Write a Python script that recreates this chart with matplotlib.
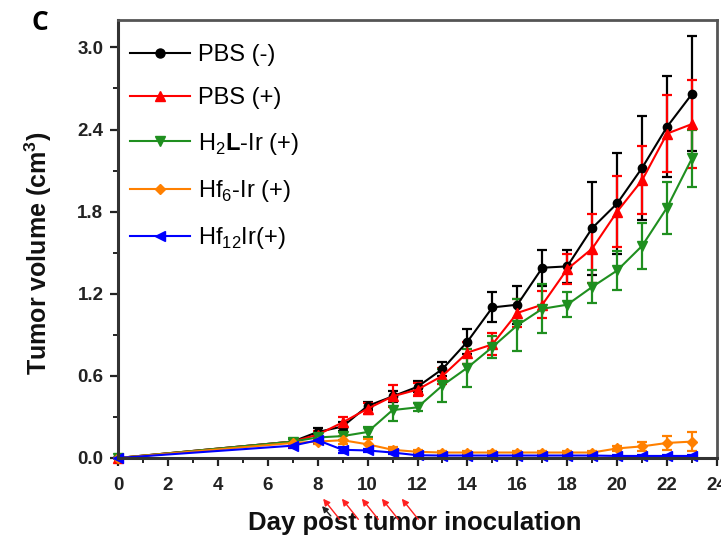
import matplotlib
matplotlib.use("Agg")
import matplotlib.pyplot as plt
from matplotlib.ticker import MultipleLocator
from matplotlib.lines import Line2D

plt.rcParams['font.family'] = ['Liberation Sans', 'DejaVu Sans']
plt.rcParams['mathtext.fontset'] = 'custom'
plt.rcParams['mathtext.rm'] = 'Liberation Sans'
plt.rcParams['mathtext.bf'] = 'Liberation Sans:bold'

days = [0, 7, 8, 9, 10, 11, 12, 13, 14, 15, 16, 17, 18, 19, 20, 21, 22, 23]

pbs_neg = [0.0, 0.12, 0.19, 0.23, 0.38, 0.45, 0.52, 0.65, 0.85, 1.10, 1.12, 1.39, 1.40, 1.68, 1.86, 2.12, 2.42, 2.66]
pbs_neg_err = [0.0, 0.02, 0.03, 0.03, 0.03, 0.04, 0.04, 0.05, 0.09, 0.11, 0.14, 0.13, 0.12, 0.34, 0.37, 0.38, 0.37, 0.42]

pbs_pos = [0.0, 0.12, 0.17, 0.26, 0.36, 0.45, 0.50, 0.60, 0.77, 0.83, 1.06, 1.12, 1.38, 1.53, 1.80, 2.03, 2.37, 2.44]
pbs_pos_err = [0.0, 0.02, 0.03, 0.04, 0.04, 0.08, 0.05, 0.06, 0.08, 0.08, 0.10, 0.10, 0.11, 0.25, 0.26, 0.25, 0.28, 0.32]

h2l = [0.0, 0.12, 0.15, 0.16, 0.19, 0.35, 0.37, 0.53, 0.66, 0.81, 0.97, 1.09, 1.12, 1.25, 1.37, 1.55, 1.83, 2.19]
h2l_err = [0.0, 0.02, 0.02, 0.03, 0.04, 0.08, 0.03, 0.12, 0.14, 0.08, 0.19, 0.18, 0.09, 0.12, 0.14, 0.17, 0.19, 0.21]

hf6 = [0.0, 0.11, 0.12, 0.13, 0.10, 0.06, 0.045, 0.04, 0.04, 0.04, 0.04, 0.04, 0.04, 0.04, 0.07, 0.085, 0.11, 0.12]
hf6_err = [0.0, 0.01, 0.02, 0.03, 0.04, 0.02, 0.01, 0.01, 0.01, 0.01, 0.01, 0.01, 0.01, 0.01, 0.02, 0.035, 0.05, 0.07]

hf12 = [0.0, 0.09, 0.13, 0.06, 0.055, 0.04, 0.02, 0.018, 0.018, 0.018, 0.018, 0.018, 0.018, 0.018, 0.015, 0.015, 0.015, 0.015]
hf12_err = [0.0, 0.02, 0.02, 0.02, 0.01, 0.01, 0.01, 0.01, 0.01, 0.01, 0.01, 0.01, 0.01, 0.01, 0.01, 0.01, 0.01, 0.01]

labels = ["PBS (-)", "PBS (+)", r"H$_2$$\mathbf{L}$-Ir (+)", r"Hf$_6$-Ir (+)", r"Hf$_{12}$Ir(+)"]
colors = ["#000000", "#ff0000", "#1f8f1f", "#ff8000", "#0000ff"]
markers = ["o", "^", "v", "D", "<"]
msizes = [6, 6.5, 6.5, 5, 6.5]

# injection days (arrows under the x axis)
arrow_black = [8.1]
arrows_red = [8.15, 8.9, 9.7, 10.5, 11.3]

fig = plt.figure(figsize=(7.21, 5.42), dpi=100)
ax = fig.add_axes([118/721, 1-458/542, 599/721, 438/542])

series = [(pbs_neg, pbs_neg_err), (pbs_pos, pbs_pos_err), (h2l, h2l_err), (hf6, hf6_err), (hf12, hf12_err)]
handles = []
for (y, e), lab, c, m, ms in zip(series, labels, colors, markers, msizes):
    ax.errorbar(days, y, yerr=e, color=c, marker=m, ms=ms, lw=1.5, elinewidth=1.6,
                capsize=3.5, capthick=1.6, clip_on=False)
    handles.append(Line2D([], [], color=c, marker=m, ms=ms + 0.5, lw=1.5, label=lab))

ax.set_xlim(0, 24)
ax.set_ylim(0, 3.2)
ax.xaxis.set_major_locator(MultipleLocator(2))
ax.xaxis.set_minor_locator(MultipleLocator(1))
ax.yaxis.set_major_locator(MultipleLocator(0.6))
ax.yaxis.set_minor_locator(MultipleLocator(0.3))
ax.yaxis.set_major_formatter(plt.FuncFormatter(lambda v, p: f"{v:.1f}"))
ax.tick_params(which='major', direction='out', length=5.5, width=1.6, labelsize=13.5, colors='#222222')
ax.tick_params(which='minor', direction='out', length=3.5, width=1.4, colors='#222222')
ax.tick_params(axis='x', which='major', pad=8)
ax.tick_params(axis='y', which='major', pad=5)
for lbl in ax.get_xticklabels() + ax.get_yticklabels():
    lbl.set_fontweight('bold')
for s in ['left', 'bottom']:
    ax.spines[s].set_linewidth(2.2)
    ax.spines[s].set_color('#333333')
for s in ['top', 'right']:
    ax.spines[s].set_linewidth(2.0)
    ax.spines[s].set_color('#555555')

ax.text((38 - 118) / 599, 0.468, "Tumor volume (cm$^\\mathbf{3}$)", rotation=90, transform=ax.transAxes,
        ha='center', va='center', fontsize=18, fontweight='bold', color='#111111')
ax.text(0.495, (458 - 523) / 438, "Day post tumor inoculation", transform=ax.transAxes,
        ha='center', va='center', fontsize=18.5, fontweight='bold', color='#111111')

leg = ax.legend(handles=handles, loc='upper left', frameon=False, fontsize=17, handlelength=2.55,
                labelspacing=0.9, borderaxespad=0.1, borderpad=0.4, handletextpad=0.35,
                bbox_to_anchor=(0.0, 0.972))

for xd in arrow_black:
    ax.annotate("", xy=(xd, -0.105), xytext=(xd + 0.5, -0.137),
                xycoords=('data', 'axes fraction'), textcoords=('data', 'axes fraction'),
                arrowprops=dict(arrowstyle='-|>', color='#222222', lw=1.0, mutation_scale=9),
                annotation_clip=False)
for xd in arrows_red:
    ax.annotate("", xy=(xd, -0.088), xytext=(xd + 0.8, -0.145),
                xycoords=('data', 'axes fraction'), textcoords=('data', 'axes fraction'),
                arrowprops=dict(arrowstyle='-|>', color='#ff2020', lw=1.0, mutation_scale=10),
                annotation_clip=False)

fig.text(40/721, 1-22/542, "C", fontsize=19, fontweight='bold', ha='center', va='center',
         family=['Open Sans', 'DejaVu Sans'])

fig.savefig("out.png", dpi=100)
